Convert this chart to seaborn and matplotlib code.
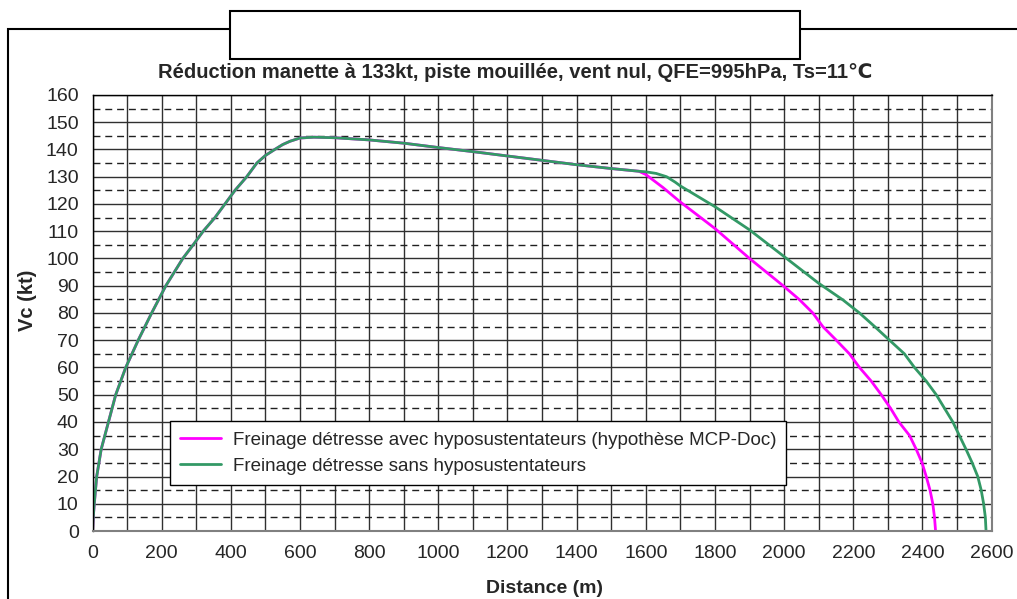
import seaborn as sns
import matplotlib.pyplot as plt
from matplotlib.patches import Rectangle
from matplotlib.ticker import MultipleLocator

# common part (acceleration then reduction), identical for both cases
dist_common = [0, 2, 5, 12, 25, 46, 67, 96, 132, 171, 212, 261, 291, 320, 354, 383,
               412, 446, 475, 500, 527, 550, 571, 600, 640, 700, 800, 900, 1000, 1100,
               1200, 1300, 1400, 1500, 1580]
vc_common = [0, 5, 10, 20, 30, 40, 50, 60, 70, 80, 90, 100, 105, 110, 115, 120,
             125, 130, 135, 137.8, 140, 141.8, 143, 144.2, 144.5, 144.3, 143.5, 142.3,
             140.7, 139.2, 137.6, 136.0, 134.4, 133.0, 132.0]

# braking with flaps (MCP-Doc hypothesis)
dist_avec = [1600, 1650, 1700, 1800, 1900, 2000, 2045, 2083, 2112, 2151, 2189, 2218,
             2252, 2281, 2308, 2332, 2363, 2382, 2399, 2411, 2422, 2430, 2435, 2438]
vc_avec = [130.8, 126.0, 120.7, 111.0, 100.0, 89.7, 84.8, 80, 75, 70, 65, 60,
           55, 50, 45, 40, 35, 30, 25, 20, 15, 10, 5, 0]

# braking without flaps
dist_sans = [1600, 1630, 1660, 1685, 1700, 1800, 1900, 2000, 2100, 2170, 2218, 2262,
             2305, 2348, 2377, 2411, 2440, 2464, 2488, 2507, 2526, 2544, 2560, 2570,
             2577, 2582, 2584]
vc_sans = [131.8, 131.2, 130.0, 128.0, 126.6, 119.0, 110.5, 100.7, 90.9, 84.8, 80, 75,
           70, 65, 60, 55, 50, 45, 40, 35, 30, 25, 20, 15, 10, 5, 0]

labels = ["Freinage détresse avec hyposustentateurs (hypothèse MCP-Doc)",
          "Freinage détresse sans hyposustentateurs"]
colors = ["#FF00FF", "#339966"]

sns.set_style("white")
plt.rcParams["font.family"] = ["Liberation Sans", "DejaVu Sans"]

fig = plt.figure(figsize=(10.17, 5.99), dpi=100)
ax = fig.add_axes([0.091, 0.1135, 0.884, 0.728])

sns.lineplot(x=dist_common + dist_avec, y=vc_common + vc_avec, sort=False,
             estimator=None, color=colors[0], lw=2, label=labels[0], ax=ax)
sns.lineplot(x=dist_common + dist_sans, y=vc_common + vc_sans, sort=False,
             estimator=None, color=colors[1], lw=2, label=labels[1], ax=ax)

ax.set_xlim(0, 2600)
ax.set_ylim(0, 160)
ax.xaxis.set_major_locator(MultipleLocator(200))
ax.xaxis.set_minor_locator(MultipleLocator(100))
ax.yaxis.set_major_locator(MultipleLocator(10))
ax.yaxis.set_minor_locator(MultipleLocator(5))

ax.grid(which="both", axis="x", color="#303030", lw=1)
ax.grid(which="major", axis="y", color="#303030", lw=1)
ax.grid(which="minor", axis="y", color="#202020", lw=1, linestyle=(0, (5, 3.5)))
ax.set_axisbelow(True)

ax.tick_params(which="major", direction="out", length=6, width=1, color="black",
               labelsize=14, pad=4)
ax.tick_params(which="minor", length=0)

for side in ["left", "top"]:
    ax.spines[side].set_color("black")
    ax.spines[side].set_linewidth(1)
for side in ["right", "bottom"]:
    ax.spines[side].set_color("#808080")
    ax.spines[side].set_linewidth(1.5)

ax.set_xlabel("Distance (m)", fontsize=14, fontweight="bold")
ax.set_ylabel("Vc (kt)", fontsize=14.5, fontweight="bold")
ax.xaxis.set_label_coords(0.503, -0.112)
ax.yaxis.set_label_coords(-0.062, 0.53)

leg = ax.legend(loc="upper left", bbox_to_anchor=(0.086, 0.252), borderaxespad=0,
                fontsize=13.5, frameon=True, fancybox=False, framealpha=1,
                edgecolor="black", handlelength=2.2, handletextpad=0.6,
                borderpad=0.55, labelspacing=0.5)
leg.get_frame().set_linewidth(1)

fig.text(515 / 1017, 1 - 72 / 599,
         "Réduction manette à 133kt, piste mouillée, vent nul, QFE=995hPa, Ts=11℃",
         ha="center", va="center", fontsize=14.5, fontweight="bold")

# outer frame and empty title box
fig.patches.append(Rectangle((8 / 1017, -0.05), 1.2, 1 - 29 / 599 + 0.05,
                             transform=fig.transFigure, fill=False,
                             edgecolor="black", lw=1.5, zorder=0))
fig.patches.append(Rectangle((230 / 1017, 1 - 59 / 599), 570 / 1017, 48 / 599,
                             transform=fig.transFigure, facecolor="white",
                             edgecolor="black", lw=1.5, zorder=1))

fig.savefig("out.png", dpi=100)
